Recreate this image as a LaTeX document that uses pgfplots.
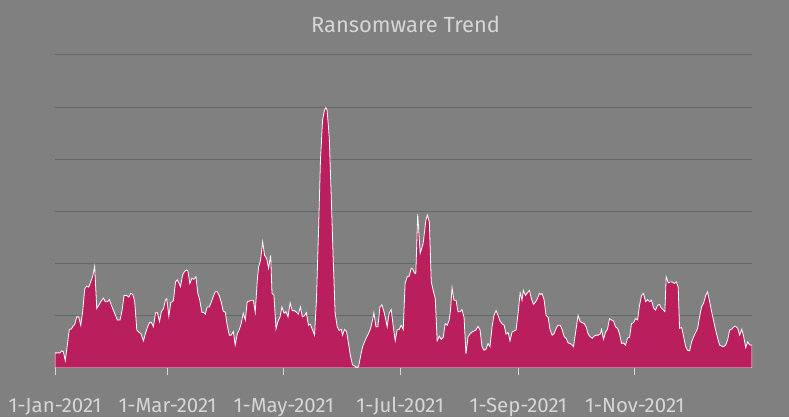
\documentclass[border=0pt]{standalone}
\usepackage{fontspec}
\setmainfont{Fira Sans}
\usepackage{pgfplots}
\pgfplotsset{compat=1.18}
\definecolor{bggrey}{HTML}{808080}
\definecolor{txtgrey}{HTML}{D6D6D6}
\definecolor{gridgrey}{HTML}{5F6770}
\definecolor{ransom}{HTML}{B81F5C}

\begin{document}
\begin{tikzpicture}
\fill[bggrey] (0,0) rectangle (789bp,417bp);
\node[anchor=base, text=txtgrey, font=\fontsize{22}{26}\selectfont] at (405.5bp,384.7bp) {Ransomware Trend};
\begin{axis}[
	at={(55bp,49bp)}, anchor=south west,
	scale only axis, width=697bp, height=313bp,
	xmin=0, xmax=365.5, ymin=0, ymax=60,
	axis x line*=bottom, axis y line*=left,
	y axis line style={draw=none},
	x axis line style={txtgrey, line width=1bp},
	xtick={0,59,120,181,243,304},
	xticklabels={1-Jan-2021,1-Mar-2021,1-May-2021,1-Jul-2021,1-Sep-2021,1-Nov-2021},
	xtick align=outside, major tick length=7bp,
	x tick style={txtgrey, line width=0.8bp},
	xticklabel style={anchor=base, yshift=-37bp, text=txtgrey, font=\fontsize{20.5}{24}\selectfont},
	ytick={10,20,30,40,50,60}, yticklabels={,,,,,}, y tick style={draw=none},
	ymajorgrids, y grid style={gridgrey, line width=1bp},
]
	% daily counts
	\addplot[fill=ransom, draw=white, line width=0.8bp] coordinates {
(0,2.9) (2.6,2.9) (3.5,3.3) (4.4,3.1) (5.4,1.4) (7.5,7.4) (8.6,7.5) (9.6,8.1)
(10.3,8.3) (11.4,9.8) (12.4,9.8) (13.5,8.2) (14.5,10.8) (15.6,15.2) (16.6,15.7)
(17.7,15.5) (18.7,16.5) (19.8,17.6) (20.8,19.5) (21.9,11.4) (22.9,12.0) (24.0,12.7)
(25.4,13.4) (26.4,12.7) (27.5,12.7) (28.5,13.1) (29.6,12.0) (30.6,11.1) (31.7,10.1)
(32.7,9.2) (34.1,9.2) (35.2,11.1) (36.2,13.9) (37.6,13.9) (38.7,13.6) (39.7,14.3)
(40.8,14.1) (41.8,12.7) (42.9,7.3) (43.9,6.9) (45.0,6.6) (46.4,5.2) (47.4,6.6)
(48.5,7.8) (49.5,8.7) (50.6,8.7) (51.6,7.9) (52.7,10.6) (53.7,10.6) (54.8,8.9)
(55.8,10.8) (56.9,11.4) (57.9,13.0) (58.6,13.3) (59.7,9.9) (60.7,12.5) (62.1,12.9)
(63.2,16.5) (64.1,16.9) (65.1,16.2) (65.8,15.6) (66.9,17.8) (67.9,18.5) (69.0,18.8)
(69.7,18.6) (70.7,16.2) (71.8,17.2) (72.8,17.0) (73.9,17.5) (74.9,14.3) (75.9,13.0)
(77.0,10.7) (78.1,10.6) (78.8,10.3) (79.8,11.7) (80.9,11.7) (81.9,12.6) (83.0,13.7)
(84.0,14.6) (85.1,14.6) (86.1,13.9) (87.2,12.6) (88.2,10.9) (89.3,10.7) (90.3,8.2)
(91.4,6.3) (92.4,6.3) (93.5,7.0) (94.5,4.4) (95.6,6.6) (96.6,7.3) (97.7,8.6)
(98.7,10.5) (99.8,9.2) (100.8,12.7) (101.9,12.8) (102.9,13.0) (104.0,13.0) (105.0,10.7)
(106.1,16.9) (106.8,19.4) (107.8,20.7) (108.9,24.2) (109.9,21.6) (111.0,21.0) (112.0,19.1)
(113.1,21.6) (113.8,14.3) (114.8,14.0) (115.9,7.5) (116.9,8.9) (118.0,9.8) (119.0,11.7)
(120.1,10.5) (121.1,10.8) (122.2,9.8) (123.3,12.5) (124.4,11.0) (125.5,11.0) (126.6,10.7)
(127.6,10.3) (128.7,11.7) (129.7,9.8) (130.8,10.0) (131.8,10.6) (132.9,8.2) (133.9,8.4)
(135.0,7.3) (136.1,6.3) (137.1,13.0) (138.2,26.4) (139.2,39.8) (140.3,47.5) (141.3,49.4)
(142.0,49.9) (142.7,49.4) (143.8,44.3) (144.8,33.5) (145.9,20.7) (146.9,10.5) (148.0,7.9)
(149.0,7.2) (150.1,7.4) (150.8,6.3) (151.8,7.4) (152.9,7.0) (153.9,4.7) (155.0,2.2)
(156.0,0.6) (157.1,0.4) (158.1,0.1) (159.2,0.3) (160.2,2.2) (161.3,4.1) (162.3,5.0)
(163.4,5.9) (164.4,6.6) (165.5,7.6) (166.5,9.2) (167.2,10.6) (168.3,7.9) (169.3,7.9)
(170.4,11.7) (171.4,12.1) (172.5,10.8) (173.5,9.2) (174.2,7.9) (175.2,10.5) (176.3,11.2)
(177.3,8.2) (178.4,5.2) (179.4,7.3) (180.5,7.4) (181.5,8.2) (182.6,7.4) (183.6,16.2)
(184.7,17.5) (185.7,17.6) (186.8,19.1) (187.5,19.0) (188.5,18.2) (189.2,18.1) (190.2,29.5)
(191.5,22.0) (192.3,22.9) (193.1,24.0) (194.5,28.4) (195.3,29.3) (196.3,28.0) (197.3,16.5)
(198.3,14.9) (199.4,13.3) (200.4,5.2) (201.5,6.1) (202.5,5.5) (203.6,5.9) (204.6,8.5)
(205.7,8.2) (206.7,9.2) (207.4,11.1) (208.2,15.4) (209.2,13.0) (210.3,13.0) (211.3,10.8)
(212.4,10.8) (213.4,11.2) (214.5,9.7) (215.5,2.7) (216.6,6.0) (217.6,6.5) (218.7,6.9)
(219.7,7.1) (220.8,7.3) (221.8,8.0) (222.9,7.3) (223.9,4.1) (225.0,3.4) (226.0,3.6)
(227.1,4.7) (228.1,4.1) (229.2,7.9) (230.2,10.1) (231.3,11.0) (232.3,10.1) (233.4,9.0)
(234.4,8.5) (235.5,8.2) (236.5,6.5) (237.6,6.8) (238.6,5.2) (239.7,6.9) (240.7,7.1)
(241.8,7.3) (242.8,10.4) (243.9,14.4) (244.9,13.0) (245.6,14.9) (246.7,13.9) (247.7,14.4)
(248.8,14.9) (249.8,13.3) (250.9,12.2) (251.9,12.6) (253.0,13.3) (254.0,14.3) (254.7,14.1)
(255.4,14.3) (256.5,13.0) (257.5,10.1) (258.6,9.7) (259.6,7.3) (260.7,6.3) (261.7,6.6)
(262.8,7.6) (263.8,8.2) (264.9,8.2) (265.9,7.4) (267.0,6.0) (268.0,5.7) (269.1,4.8)
(270.1,4.7) (271.2,4.4) (271.9,4.1) (272.9,6.6) (274.3,10.1) (275.4,8.9) (276.4,8.7)
(277.5,8.5) (278.5,7.9) (279.6,6.5) (280.6,6.0) (281.7,5.7) (282.7,6.1) (283.8,6.3)
(284.8,6.3) (285.9,6.5) (286.6,7.4) (287.6,5.5) (288.7,6.9) (289.7,7.4) (290.8,9.5)
(291.8,9.2) (292.9,9.0) (293.9,7.9) (295.0,7.6) (296.0,6.6) (297.1,4.7) (298.1,4.8)
(299.2,4.4) (300.2,5.7) (301.3,5.9) (302.3,8.5) (303.4,8.7) (304.4,9.5) (305.5,9.2)
(306.5,12.0) (307.6,13.9) (308.6,14.3) (309.7,12.7) (310.7,13.1) (311.8,12.7) (312.8,13.0)
(313.9,11.5) (314.9,11.1) (316.0,12.0) (317.0,12.2) (317.7,11.6) (318.8,11.2) (319.8,10.8)
(320.5,17.5) (321.6,16.3) (322.6,16.5) (323.7,16.5) (324.7,16.2) (325.8,16.5) (326.8,15.5)
(327.5,7.6) (328.6,7.8) (329.6,6.1) (330.7,4.1) (331.7,3.4) (332.8,3.3) (333.8,5.0)
(334.9,6.0) (335.9,6.8) (337.0,7.6) (338.0,9.8) (339.1,11.8) (340.1,12.4) (341.2,13.9)
(342.2,14.6) (343.3,12.7) (344.3,10.8) (345.4,9.0) (346.4,7.3) (347.5,5.7) (348.5,4.4)
(349.6,4.2) (350.6,4.1) (351.7,4.4) (352.7,5.4) (353.8,7.3) (354.8,7.4) (355.9,7.9)
(356.9,8.0) (358.0,7.6) (359.0,6.3) (360.1,7.4) (361.1,6.1) (362.2,3.9) (363.2,5.0)
(364.3,4.4) (365.5,4.4)
	} \closedcycle;
\end{axis}
\end{tikzpicture}
\end{document}
